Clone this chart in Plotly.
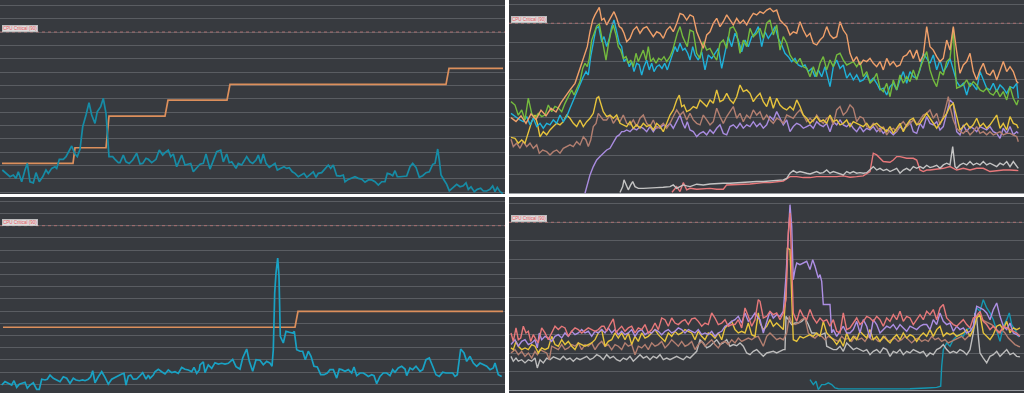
import plotly.graph_objects as go

W, H = 1024, 393
BG = "#373a3f"
GRID = "#5a5d62"
CRITICAL = 90
CRIT_LABEL = "CPU Critical (90)"

# ---------------- top-left panel ----------------
TL_T = [2.3,6.7,10,13.3,16,18.3,21.7,25,27.3,30,
        33.3,36,39.3,42.7,46,48.3,51.7,55,56.7,59.3,
        63.3,66,68.3,71.7,75,77.3,80,82.7,86,89,
        91.7,95,97.3,100.7,103.3,106,109,112.7,115,118.3,
        120,123.3,126,129.3,132.7,136.7,140,142.7,146,148.3,
        151.7,156,159.3,162.7,165,168.3,170.7,173.3,176.7,181.7,
        185,188.3,190.7,193.3,196.7,200,203.3,206,210,213.3,
        216.7,220.7,223.3,226.7,229.3,231.7,236,238.3,241.7,246.7,
        250,252.7,256,258.3,260.7,263.3,266,269.3,272.7,275,
        277.3,280.7,284,286.7,289.3,292.3,295,298.3,301.7,304,
        306.7,310,313.3,316,318.3,321.7,325,328.3,330.7,333.3,
        336.7,340,343.3,345,348.3,351.7,355,358.3,361.7,365,
        368.3,371.7,375,378.3,381.7,385,387.3,390,392.7,395,
        397.3,400,403.3,406.7,410,412.7,416,419.3,422.7,426,
        429.3,432.7,435,437.7,439.3,441,444,446.7,449.3,453.3,
        456.7,460,463.3,466,468.3,471,474.3,477.3,480.7,483.3,
        486.7,490,492.7,495,497.3,500,502.7]
TL_CPU = [12.4,10.5,8.6,9.6,7.7,11.4,5.8,12.4,16.1,5.8,
          5.2,10.9,5.8,8.6,12.4,10.5,13.3,14.2,13.3,18.4,
          18.4,19.9,22.7,25.9,21.4,19.9,24.0,36.7,43.3,50.2,
          43.3,38.6,45.2,48.0,52.7,44.3,19.9,19.9,18.4,16.5,
          16.5,20.8,17.0,16.1,18.0,21.8,15.8,16.1,19.0,18.4,
          16.5,18.4,23.6,20.8,22.1,23.6,19.9,21.4,14.2,20.8,
          15.2,15.6,16.1,11.4,13.3,15.6,16.1,21.4,12.9,18.0,
          22.7,23.6,17.0,21.4,16.5,17.0,13.3,16.1,15.2,19.9,
          17.0,16.1,18.0,20.8,16.1,21.4,16.1,13.9,15.2,16.1,
          12.4,13.3,14.2,13.3,13.7,11.4,10.5,8.6,9.6,10.5,
          8.3,10.1,11.4,8.3,10.5,10.9,13.3,15.2,13.3,15.2,
          9.2,9.0,9.6,5.8,7.1,7.7,8.6,7.7,7.3,5.5,
          6.8,6.8,5.8,3.9,5.8,5.8,10.5,10.1,9.2,12.0,
          8.6,8.6,9.0,9.0,14.2,16.1,13.9,8.3,9.2,10.9,
          11.4,15.6,16.1,24.2,18.0,9.6,6.8,4.3,0.7,2.6,
          4.3,3.0,3.5,5.2,1.5,3.0,0.2,1.5,2.1,0.6,
          0.6,1.5,3.4,0.2,2.6,0.2,-0.8]
TL_STEP_T = [2, 73, 75, 106, 109, 165, 168, 227, 230, 446, 449, 503]
TL_STEP = [16.1, 16.1, 24.9, 24.9, 42.7, 42.7, 51.7, 51.7, 60.6, 60.6, 69.6, 69.6]

# ---------------- bottom-left panel ----------------
BL_CPU = [(1.7,5.1),(5,6.9),(8.3,6.0),(11.7,5.1),(14,7.4),(16.7,3.9),(19.3,5.5),(22.7,6.0),(25,6.6),(27.3,3.4),
          (30,5.1),(33.3,6.3),(36.7,2.8),(39.3,2.8),(41.7,8.2),(45,7.8),(47.3,8.2),(50,10.4),(53.3,8.7),(56.7,7.8),
          (60,6.9),(63.3,9.5),(66.7,8.7),(70,6.0),(73.3,8.7),(76,7.8),(79.3,7.4),(82.7,7.8),(85,7.4),(88.3,8.2),
          (90.7,9.5),(92.7,12.7),(95,6.3),(98.3,9.5),(101.7,12.2),(105,9.2),(108.3,5.6),(111.7,8.2),(115,9.2),(118.3,9.9),
          (121.7,11.0),(124,11.3),(126,5.1),(128.3,9.9),(130.7,10.4),(133.3,8.2),(136.7,8.3),(140,10.1),(142.7,11.7),(146,8.2),
          (148.3,10.4),(150,8.7),(153.3,10.4),(155,12.2),(158.3,13.5),(161.7,12.2),(165,11.0),(168.3,13.1),(171.7,11.7),(175,12.2),
          (178.3,11.3),(181.7,14.5),(185,13.5),(188.3,13.1),(191.7,12.2),(194,14.5),(196.7,11.3),(199.3,13.1),(200,15.8),(203.3,17.5),
          (205,11.7),(208.3,15.8),(211.7,14.0),(215,17.0),(218.3,16.3),(221.7,16.7),(225,16.3),(228.3,16.7),(232.7,18.8),(236,14.9),
          (240,13.6),(242.7,19.5),(246.7,24.3),(249.3,17.7),(252.7,12.4),(256,18.6),(260,18.3),(263.3,15.9),(266.7,17.7),(270,16.8),
          (272,15.1),(273.3,23.9),(274.7,54.1),(276,64.8),(277.7,72.8),(279,63.0),(280.3,31.1),(283.3,27.5),(286,33.7),(289.3,33.2),
          (292.7,32.8),(294.3,33.7),(296.7,23.9),(300,23.1),(302.7,23.1),(305.3,18.6),(308.3,23.1),(311,20.4),(314,15.1),(317.3,14.7),
          (320.7,10.6),(324,10.6),(327.3,11.5),(330,13.3),(333.3,13.3),(336.7,8.8),(339.3,13.6),(341.7,13.3),(345,12.4),(348.3,13.3),
          (351.7,11.5),(354,14.7),(356.7,10.1),(360,11.5),(363.3,11.5),(366,10.6),(368.3,9.7),(371.7,10.6),(374,10.1),(376.7,5.8),
          (380,9.7),(383.3,11.5),(386.7,11.5),(390,10.1),(392.7,13.3),(395,11.9),(398.3,14.2),(401.7,15.1),(405,13.6),(406.7,10.1),
          (410,14.2),(412.7,13.3),(416,15.1),(420,12.4),(422.7,13.3),(426,18.6),(429.3,19.5),(432.7,15.1),(436,10.6),(439.3,9.7),
          (442.7,11.9),(446,11.5),(449.3,11.5),(452.7,11.5),(455,9.7),(457.3,10.6),(460.7,24.3),(464,22.2),(466.7,17.7),(470,20.4),
          (473.3,16.8),(476.7,15.1),(480,16.8),(483.3,15.9),(486.7,15.1),(490,13.3),(493.3,14.2),(495,16.8),(498.3,10.6),(501.7,9.7)]
BL_STEP_T = [3, 295, 298, 503]
BL_STEP = [35.9, 35.9, 44.4, 44.4]

# ---------------- top-right panel ----------------
TR_ORANGE = [(511,40),(516,38),(521,41),(526,37),(531,42),(536,39),(541,44),(546,41),(551,45),(556,43),(561,48),(566,52),
    (570,54.7),(575,58.2),(580,66.1),(583.3,72.3),(587.3,77.6),(590,85.5),(592.7,91.7),(595,94.4),(597.3,97.0),(599.3,98.4),
    (601.7,91.7),(604,92.6),(606.7,89.1),(609.3,91.7),(611.7,94.4),(614,96.1),(616.7,92.6),(619.3,88.2),(621.7,87.3),(624,84.7),
    (626.7,80.2),(630,82.0),(633.3,86.4),(636.7,88.2),(640,84.7),(643.3,87.3),(646.7,88.2),(650,85.5),(653.3,82.9),(656.7,85.5),
    (660,84.7),(663.3,82.0),(666.7,86.4),(670,88.2),(673.3,85.5),(676.7,89.9),(680,95.2),(683.3,94.4),(686.7,91.7),(690,94.4),
    (693.3,93.5),(696.7,85.5),(700,81.1),(703.3,76.7),(706.7,83.8),(710,85.5),(713.3,89.9),(716.7,92.6),(720,88.2),(723.3,90.8),
    (726.7,94.4),(730,91.7),(733.3,89.1),(736.7,92.6),(740,89.9),(743.3,91.7),(746.7,89.1),(750,92.6),(753.3,95.2),(756.7,94.4),
    (760,96.1),(763.3,95.2),(766.7,97.0),(770,97.9),(773.3,96.1),(776.7,97.0),(780,91.7),(783.3,89.9),(786.7,88.2),(790,83.8),
    (793.3,85.5),(796.7,84.7),(800,90.8),(803.3,86.4),(806.7,82.9),(810,84.7),(813.3,79.4),(816.7,78.5),(820,81.1),(823.3,82.9),
    (826.7,88.2),(830,83.8),(833.3,82.0),(836.7,82.9),(840,90.8),(843.3,86.4),(846.7,83.8),(850,74.1),(853.3,69.7),(856.7,72.3),
    (860,67.9),(863.3,70.5),(866.7,69.7),(870,71.4),(873.3,68.8),(876.7,67.0),(880,69.7),(883.3,65.3),(886.7,71.4),(890,67.9),
    (893.3,69.7),(896.7,67.0),(900,67.9),(903.3,72.3),(906.7,73.2),(910,75.8),(913.3,71.4),(916.7,75.8),(920,69.7),(923.3,73.2),
    (926.7,88.2),(930,77.6),(933.3,75.8),(936.7,72.3),(940,69.7),(943.3,71.4),(946.7,81.1),(950,75.8),(953.3,88.2),(956.7,75.0),
    (960,63.5),(963.3,67.9),(966.7,69.7),(970,74.1),(973.3,64.4),(976.7,60.0),(980,65.3),(983.3,68.8),(986.7,63.5),(990,62.6),
    (993.3,65.3),(996.7,60.0),(1000,65.3),(1003.3,69.7),(1006.7,64.4),(1010,67.0),(1013.3,64.4),(1016.7,59.1),(1018.3,58.2)]
TR_GREEN = [(511,48.5),(515,46.7),(518.3,41.3),(521.7,44.1),(525,38.8),(528.3,50.3),(531.7,42.3),(535,39.7),(538.3,42.3),(541.7,40.6),
    (545,41.4),(548.3,46.7),(551.7,43.2),(555,46.0),(558.3,45.1),(561.7,43.2),(565,47.6),(568.3,51.1),(571.7,54.7),(574,52.0),
    (577.3,55.6),(580,59.1),(582.7,66.1),(585,68.8),(587.3,67.0),(589.3,71.4),(591.7,81.1),(594,84.7),(596.7,88.5),(599.3,89.6),
    (601.7,82.0),(604,76.7),(606,70.5),(608.3,78.5),(610.7,84.7),(613.3,89.1),(616,83.8),(618.3,77.6),(620.7,75.8),(623.3,71.4),
    (626,72.3),(628.3,68.8),(630.7,70.5),(633.3,67.0),(636,74.1),(638.3,69.7),(640.7,72.3),(643.3,75.8),(646,70.5),(648.3,77.6),
    (650.7,69.7),(653.3,71.4),(656,68.8),(658.7,71.4),(661.3,70.5),(664,72.3),(666.7,69.7),(670,72.3),(672.7,75.8),(675,81.1),
    (677.3,84.7),(680,88.2),(682.7,82.9),(685,80.2),(687.3,77.6),(690,86.4),(693.3,85.5),(696.7,74.1),(700,71.4),(703.3,80.2),
    (706.7,75.8),(710,76.7),(713.3,73.2),(716.7,70.5),(720,79.4),(723.3,81.1),(726.7,76.7),(730,87.3),(733.3,88.2),(736.7,84.7),
    (740,74.1),(743.3,81.1),(746.7,77.6),(750,87.3),(753.3,82.9),(756.7,84.7),(760,87.3),(763.3,82.0),(766.7,90.0),(770,91.7),
    (773.3,83.8),(776.7,89.1),(780,75.8),(783.3,82.9),(786.7,79.4),(790,73.2),(793.3,70.5),(796.7,68.8),(800,71.4),(803.3,67.0),
    (806.7,66.1),(810,61.7),(813.3,67.0),(816.7,61.7),(820,68.8),(823.3,72.3),(826.7,65.3),(830,70.5),(833.3,67.0),(836.7,73.2),
    (840,74.1),(843.3,70.5),(846.7,67.9),(850,68.8),(853.3,69.7),(856.7,67.0),(860,69.7),(863.3,61.7),(866.7,64.4),(870,58.2),
    (873.3,60.0),(876.7,63.5),(880,55.6),(883.3,53.8),(886.7,58.2),(890,51.1),(893.3,60.0),(896.7,54.7),(900,62.6),(903.3,58.2),
    (906.7,61.7),(910,59.1),(913.3,65.3),(916.7,60.0),(920,66.1),(923.3,70.5),(926.7,75.0),(930,65.3),(933.3,60.0),(936.7,56.4),
    (940,64.4),(943.3,62.6),(946.7,69.7),(950,71.4),(953.3,87.3),(955,67.0),(956.7,55.6),(960,56.4),(963.3,57.3),(966.7,60.0),
    (970,56.4),(973.3,59.1),(976.7,57.3),(980,54.7),(983.3,53.8),(986.7,55.6),(990,52.9),(993.3,52.0),(996.7,54.7),(1000,51.1),
    (1003.3,53.8),(1006.7,49.4),(1010,56.4),(1013.3,50.3),(1016.7,46.7),(1018.3,49.4)]
TR_CYAN = [(511,42.3),(513.3,41.4),(516.7,39.7),(520,38.8),(523.3,37.9),(526.7,40.6),(530,36.2),(533.3,39.7),(536.7,35.3),(540,37.0),
    (543.3,34.4),(546.7,37.0),(550,36.2),(553.3,38.8),(556.7,37.0),(560,41.4),(563.3,37.9),(566.7,40.6),(570,45.0),(573.3,49.4),
    (576.7,52.9),(580,58.2),(583.3,61.7),(586,64.4),(588.3,62.6),(590.7,72.3),(593.3,79.4),(596,87.3),(598.7,88.2),(601.7,80.2),
    (604,82.9),(606.7,77.6),(609.3,82.0),(611.7,88.2),(614,91.7),(616.7,85.5),(619.3,79.4),(621.7,77.6),(624,69.7),(626.7,71.4),
    (629.3,67.0),(631.7,69.7),(634,64.4),(636.7,68.8),(639.3,67.9),(641.7,62.6),(644,67.0),(646.7,70.5),(649.3,65.3),(651.7,68.8),
    (654,64.4),(656.7,67.0),(659.3,67.9),(662,66.1),(664.7,68.8),(667.3,65.3),(670,69.7),(672.7,74.1),(675,77.6),(677.3,74.9),
    (680,79.4),(682.7,75.8),(685,76.7),(687.7,74.1),(690,70.5),(692.7,77.6),(695,73.2),(698.3,70.5),(701.7,74.9),(705,65.3),
    (708.3,73.2),(711.7,71.4),(715,74.1),(718.3,76.7),(721.7,66.1),(725,74.1),(728.3,82.9),(731.7,77.6),(735,84.7),(738.3,81.1),
    (741.7,74.9),(745,81.1),(748.3,77.6),(751.7,82.9),(755,84.7),(758.3,88.2),(761.7,77.6),(765,85.5),(768.3,82.0),(771.7,84.7),
    (775,88.2),(778.3,82.0),(781.7,78.5),(785,74.1),(788.3,72.3),(791.7,69.7),(795,71.4),(798.3,67.9),(801.7,67.0),(805,67.9),
    (808.3,64.4),(811.7,66.1),(815,61.7),(818.3,65.3),(821.7,61.7),(825,67.0),(828.3,60.0),(830,56.4),(833.3,67.0),(836.7,70.5),
    (840,66.1),(843.3,67.9),(846.7,60.9),(850,63.5),(853.3,60.0),(856.7,62.6),(860,59.1),(863.3,60.0),(866.7,62.6),(870,59.1),
    (873.3,60.9),(876.7,58.2),(880,54.7),(883.3,55.6),(886.7,52.0),(890,56.4),(893.3,58.2),(896.7,54.7),(900,60.0),(903.3,64.4),
    (906.7,58.2),(910,64.4),(913.3,61.7),(916.7,60.9),(920,65.3),(923.3,74.1),(926.7,71.4),(930,68.8),(933.3,73.2),(936.7,65.3),
    (940,70.5),(943.3,64.4),(946.7,67.0),(950,71.4),(953.3,65.3),(956.7,59.1),(960,56.4),(963.3,58.2),(966.7,52.0),(970,58.2),
    (973.3,57.3),(976.7,54.7),(980,64.4),(983.3,60.0),(986.7,55.6),(990,54.7),(993.3,58.2),(996.7,53.8),(1000,57.3),(1003.3,55.6),
    (1006.7,52.9),(1010,56.4),(1013.3,55.6),(1016.7,58.2),(1018.3,50.3)]
TR_YELLOW = [(511,29.6),(515,29.1),(518.3,26.5),(521.7,28.2),(525,26.5),(528.3,32.6),(531.7,37.9),(535,41.4),(537.3,37.0),(540,29.9),
    (543.3,32.6),(546.7,30.9),(550,33.5),(553.3,35.3),(556.7,37.0),(560,36.2),(563.3,37.9),(566.7,41.4),(570,39.7),(573.3,37.0),
    (576.7,35.3),(580,38.8),(583.3,35.3),(586.7,37.9),(590,39.7),(593.3,42.3),(596.7,50.3),(598.7,51.1),(600.7,47.6),(603.3,43.2),
    (606.7,40.6),(610,41.4),(613.3,39.7),(616.7,41.4),(620,37.0),(623.3,36.2),(626.7,35.3),(630,37.9),(633.3,34.4),(636.7,36.2),
    (640,34.4),(643.3,37.0),(646.7,35.3),(650,36.2),(653.3,33.5),(656.7,37.0),(660,35.3),(663.3,32.6),(666.7,37.0),(670,41.4),
    (673.3,44.1),(676.7,49.4),(679.3,52.0),(681.7,45.9),(684,46.7),(686.7,43.2),(690,44.1),(693.3,45.9),(696.7,45.0),(700,49.4),
    (703.3,47.6),(706.7,45.9),(710,49.4),(713.3,47.6),(716.7,54.7),(720,48.5),(723.3,49.4),(726.7,52.9),(730,49.4),(733.3,47.6),
    (736.7,51.1),(740,57.3),(743.3,53.8),(746.7,54.7),(750,52.9),(753.3,48.5),(756.7,51.1),(760,52.9),(763.3,48.5),(766.7,45.9),
    (770,51.1),(773.3,45.0),(776.7,50.3),(780,46.7),(783.3,45.0),(786.7,44.1),(790,45.9),(793.3,44.1),(796.7,49.4),(800,45.9),
    (803.3,41.4),(806.7,39.7),(810,37.0),(813.3,38.8),(816.7,40.6),(820,37.9),(823.3,38.8),(826.7,37.0),(830,41.4),(833.3,37.9),
    (836.7,38.8),(840,36.2),(843.3,37.0),(846.7,38.8),(850,35.3),(853.3,37.9),(856.7,37.0),(860,36.2),(863.3,35.3),(866.7,37.0),
    (870,34.4),(873.3,36.2),(876.7,37.0),(880,35.3),(883.3,34.4),(886.7,32.6),(890,35.3),(893.3,31.7),(896.7,34.4),(900,37.0),
    (903.3,32.6),(906.7,36.2),(910,38.8),(913.3,39.7),(916.7,36.2),(920,37.0),(923.3,39.7),(926.7,42.3),(930,39.7),(933.3,37.0),
    (936.7,34.4),(940,37.0),(943.3,39.7),(946.7,42.3),(950,45.9),(953.3,47.6),(956.7,40.6),(960,33.5),(963.3,35.3),(966.7,37.0),
    (970,34.4),(973.3,36.2),(976.7,39.7),(980,35.3),(983.3,37.0),(986.7,34.4),(990,36.2),(993.3,38.8),(996.7,41.4),(1000,34.4),
    (1003.3,37.0),(1006.7,33.5),(1010,40.6),(1013.3,37.0),(1016.7,36.2),(1018.3,34.4)]
TR_BROWN = [(511,28.6),(513.3,24.7),(516.7,26.5),(520,23.8),(523.3,27.3),(526.7,24.7),(530,26.5),(533.3,23.8),(536.7,25.6),(539.3,21.2),
    (542.7,22.9),(546.7,22.0),(550,20.3),(553.3,22.0),(556.7,22.9),(560,21.2),(563.3,23.8),(566.7,24.7),(570,25.6),(573.3,24.7),
    (576.7,27.3),(580,25.6),(583.3,29.9),(586,28.2),(588.3,24.7),(590.7,28.2),(593.3,35.3),(596,37.0),(598.3,42.3),(600.7,40.6),
    (603.3,38.8),(606.7,38.8),(610,41.4),(613.3,37.0),(616.7,39.7),(620,37.9),(623.3,41.4),(626.7,37.0),(630,36.2),(633.3,38.8),
    (636.7,35.3),(640,39.7),(643.3,41.4),(646.7,37.0),(650,35.3),(653.3,38.8),(656.7,34.4),(660,35.3),(663.3,37.0),(666.7,34.4),
    (670,37.0),(673.3,40.6),(676.7,44.1),(680,41.4),(683.3,43.2),(686.7,38.8),(690,42.3),(693.3,38.8),(696.7,37.0),(700,36.2),
    (703.3,41.4),(706.7,38.8),(710,36.2),(713.3,37.9),(716.7,45.0),(720,40.6),(723.3,37.0),(726.7,40.6),(730,43.2),(733.3,45.9),
    (736.7,39.7),(740,42.3),(743.3,37.9),(746.7,41.4),(750,39.7),(753.3,44.1),(756.7,41.4),(760,43.2),(763.3,38.8),(766.7,41.4),
    (770,38.8),(773.3,37.0),(776.7,39.7),(780,38.8),(783.3,37.0),(786.7,41.4),(790,40.6),(793.3,39.7),(796.7,42.3),(800,44.1),
    (803.3,41.4),(806.7,37.9),(810,39.7),(813.3,37.9),(816.7,41.4),(820,38.8),(823.3,37.0),(826.7,39.7),(830,40.6),(833.3,36.2),
    (836.7,44.1),(840,45.9),(843.3,41.4),(846.7,43.2),(850,46.7),(853.3,45.0),(856.7,37.9),(860,40.6),(863.3,39.7),(866.7,35.3),
    (870,34.4),(873.3,37.0),(876.7,35.3),(880,32.6),(883.3,35.3),(886.7,30.9),(890,33.5),(893.3,34.4),(896.7,32.6),(900,36.2),
    (903.3,37.9),(906.7,35.3),(910,37.0),(913.3,38.8),(916.7,36.2),(920,38.8),(923.3,41.4),(926.7,42.3),(930,44.1),(933.3,39.7),
    (936.7,42.3),(940,36.2),(943.3,40.6),(946.7,47.6),(948.3,51.1),(950,45.9),(953.3,38.8),(956.7,34.4),(960,32.6),(963.3,31.7),
    (966.7,33.5),(970,30.9),(973.3,32.6),(976.7,35.3),(980,31.7),(983.3,32.6),(986.7,30.9),(990,32.6),(993.3,30.9),(996.7,31.7),
    (1000,32.6),(1003.3,30.9),(1006.7,31.7),(1010,31.7),(1013.3,30.9),(1016.7,30.0),(1018.3,27.3)]
TR_PURPLE = [(585,0.0),(588.3,6.2),(590,9.7),(593.3,14.1),(596.7,17.6),(600,19.4),(603.3,21.2),(606.7,22.9),(610,23.8),(613.3,26.5),
    (616.7,30.0),(619.3,30.9),(621.7,32.6),(624,32.6),(626.7,33.5),(630,32.6),(633.3,34.4),(636.7,33.5),(640,35.3),(643.3,34.4),
    (646.7,32.6),(650,35.3),(653.3,32.6),(656.7,35.3),(660,34.4),(663.3,36.2),(666.7,35.3),(670,37.0),(673.3,34.4),(676.7,37.9),
    (680,41.4),(682.7,37.0),(685,34.4),(687.3,37.9),(690,33.5),(693.3,32.6),(696.7,30.0),(700,31.7),(703.3,32.6),(706.7,30.9),
    (710,33.5),(713.3,31.7),(716.7,34.4),(720,36.2),(723.3,31.7),(726.7,30.9),(730,35.3),(733.3,36.2),(736.7,34.4),(740,37.0),
    (743.3,34.4),(746.7,36.2),(750,35.3),(753.3,37.9),(756.7,35.3),(760,37.0),(763.3,34.4),(766.7,36.2),(770,40.6),(773.3,38.8),
    (776.7,43.2),(780,39.7),(783.3,36.2),(786.7,38.8),(790,32.6),(793.3,35.3),(796.7,37.0),(800,36.2),(803.3,34.4),(806.7,35.3),
    (810,36.2),(813.3,34.4),(816.7,37.9),(820,36.2),(823.3,35.3),(826.7,37.0),(830,32.6),(833.3,37.9),(836.7,36.2),(840,38.8),
    (843.3,36.2),(846.7,35.3),(850,37.0),(853.3,34.4),(856.7,32.6),(860,35.3),(863.3,32.6),(866.7,34.4),(870,33.5),(873.3,35.3),
    (876.7,32.6),(880,34.4),(883.3,31.7),(886.7,33.5),(890,32.6),(893.3,30.9),(896.7,32.6),(900,35.3),(903.3,33.5),(906.7,36.2),
    (910,37.9),(913.3,32.6),(916.7,31.7),(920,37.0),(923.3,34.4),(926.7,40.6),(930,37.0),(933.3,36.2),(936.7,37.9),(940,33.5),
    (943.3,35.3),(946.7,42.3),(950,49.4),(953.3,47.6),(956.7,32.6),(960,30.9),(963.3,36.2),(966.7,32.6),(970,35.3),(973.3,34.4),
    (976.7,32.6),(980,35.3),(983.3,34.4),(986.7,33.5),(990,35.3),(993.3,32.6),(996.7,31.7),(1000,29.1),(1003.3,34.4),(1006.7,31.7),
    (1010,35.3),(1013.3,30.9),(1016.7,32.6),(1018.3,31.7)]
TR_GREY = [(620,0.4),(622.7,3.5),(624,7.1),(626,4.4),(628.3,1.8),(630.7,4.4),(632.7,6.2),(635,3.5),(638.3,2.6),(643.3,2.6),
    (650,2.6),(656.7,3.0),(663.3,3.2),(670,3.5),(673.3,4.4),(676.7,2.6),(680,3.5),(683.3,4.4),(686.7,3.9),(690,3.5),
    (696.7,4.8),(703.3,4.4),(710,4.9),(716.7,5.3),(723.3,5.3),(730,5.3),(736.7,5.6),(743.3,5.6),(750,6.0),(756.7,6.2),
    (763.3,6.2),(770,6.5),(776.7,6.7),(783.3,7.1),(786.7,7.9),(790,10.6),(793.3,12.0),(796.7,10.9),(800,11.5),(803.3,10.9),
    (806.7,10.6),(810,10.2),(813.3,10.9),(816.7,11.5),(820,10.6),(823.3,10.9),(826.7,12.3),(830,10.6),(833.3,11.5),(836.7,10.9),
    (840,10.6),(843.3,9.7),(846.7,11.5),(850,10.6),(853.3,11.5),(856.7,10.6),(860,10.9),(863.3,10.6),(866.7,10.9),(870,12.3),
    (873.3,14.1),(876.7,12.3),(880,13.2),(883.3,12.0),(886.7,12.7),(890,11.5),(893.3,12.3),(896.7,13.2),(900,10.6),(903.3,12.3),
    (906.7,13.2),(910,12.0),(913.3,14.1),(916.7,13.2),(920,14.1),(923.3,13.2),(926.7,14.8),(930,13.6),(933.3,14.1),(936.7,14.8),
    (940,13.2),(943.3,15.0),(946.7,15.9),(950,15.0),(952.7,24.7),(955,14.1),(956.7,13.2),(960,15.0),(963.3,15.9),(966.7,15.0),
    (970,16.8),(973.3,15.0),(976.7,15.9),(980,15.0),(983.3,16.8),(986.7,15.0),(990,15.9),(993.3,15.0),(996.7,14.1),(1000,15.9),
    (1003.3,15.0),(1006.7,16.8),(1010,14.1),(1013.3,16.8),(1016.7,14.1),(1018.3,13.2)]
TR_PINK = [(672,0.5),(676.7,3.5),(680,0.9),(683.3,5.6),(686.7,1.8),(690,2.6),(696.7,2.1),(703.3,2.3),(710,2.6),(716.7,2.1),
    (723.3,2.1),(726.7,4.4),(736.7,4.4),(743.3,4.8),(750,4.9),(756.7,5.3),(763.3,5.6),(770,5.6),(776.7,6.2),(783.3,6.5),
    (790,8.8),(796.7,8.8),(803.3,8.3),(810,8.3),(816.7,8.8),(823.3,8.8),(830,8.5),(836.7,8.8),(843.3,9.2),(850,8.5),
    (856.7,8.8),(863.3,9.2),(870,11.5),(873.3,21.2),(876.7,20.3),(880,18.5),(883.3,16.8),(890,16.4),(893.3,17.6),(896.7,19.4),
    (900,19.4),(906.7,18.5),(913.3,18.5),(916.7,17.6),(920,12.3),(923.3,11.5),(926.7,12.3),(930,12.3),(936.7,12.7),(943.3,13.2),
    (950,14.1),(953.3,13.2),(956.7,12.3),(963.3,13.2),(970,12.3),(976.7,13.2),(983.3,13.2),(990,11.5),(996.7,12.0),(1003.3,12.3),
    (1010,12.3),(1016.7,12.3),(1018.3,12.0)]

# ---------------- bottom-right panel ----------------
BR_PINK = [(511,30.8),(513.3,26.3),(516,33.5),(518.3,27.2),(520.7,28.1),(523.3,34.4),(526,30.8),(528.3,31.7),(530.7,26.3),(533.3,29.9),
    (536,27.2),(538.3,25.5),(541.7,33.5),(545,30.8),(548.3,27.2),(551.7,30.8),(555,34.4),(558.3,32.6),(561.7,34.4),(565,33.5),
    (568.3,29.0),(571.7,31.7),(575,33.5),(578.3,32.6),(581.7,30.8),(585,32.2),(588.3,33.5),(591.7,32.6),(595,31.7),(598.3,32.6),
    (601.7,34.4),(604,34.4),(606.7,31.7),(610,35.3),(613.3,38.3),(616,30.8),(618.3,32.6),(621.7,34.4),(625,31.7),(628.3,33.5),
    (631.7,34.4),(635,30.8),(638.3,33.5),(641.7,32.6),(645,35.3),(648.3,30.8),(651.7,32.6),(655,36.1),(658.3,32.6),(661.7,38.8),
    (665,37.9),(668.3,34.4),(671.7,38.8),(675,36.1),(678.3,35.3),(681.7,37.0),(685,37.9),(688.3,35.3),(691.7,38.3),(695,38.8),
    (698.3,37.0),(701.7,34.4),(705,36.1),(708.3,35.3),(711.7,41.5),(715,38.8),(718.3,35.3),(721.7,36.1),(725,37.9),(728.3,34.4),
    (731.7,35.3),(735,35.3),(738.3,37.9),(741.7,33.5),(745,44.2),(748.3,39.7),(751.7,34.4),(755,37.9),(758.3,48.6),(760,47.7),
    (763.3,38.8),(766.7,39.7),(770,42.4),(773.3,40.6),(776.7,41.5),(780,37.9),(783.3,41.5),(786,48.6),(788.3,84.3),(790,95.0),
    (791.7,61.1),(793.3,41.5),(796.7,37.0),(800,43.3),(803.3,39.7),(806.7,37.9),(810,43.3),(813.3,38.8),(816.7,36.1),(820,38.8),
    (823.3,37.0),(826.7,37.9),(830,34.4),(833.3,37.9),(836.7,31.7),(840,30.8),(843.3,41.5),(846.7,32.6),(850,33.5),(853.3,36.1),
    (856.7,38.8),(860,35.3),(863.3,37.0),(866.7,39.7),(870,38.8),(873.3,37.0),(876.7,39.7),(880,37.9),(883.3,34.4),(886.7,38.8),
    (890,37.0),(893.3,40.6),(896.7,37.9),(900,42.4),(903.3,37.0),(906.7,39.7),(910,38.8),(913.3,35.3),(916.7,37.9),(920,40.6),
    (923.3,37.9),(926.7,42.4),(930,40.6),(933.3,43.3),(936.7,37.9),(940,44.2),(943.3,46.0),(946.7,38.8),(950,37.0),(953.3,35.3),
    (956.7,34.4),(960,36.1),(963.3,37.9),(966.7,35.3),(970,33.5),(973.3,38.8),(976.7,39.7),(980,42.4),(983.3,37.0),(986.7,35.3),
    (990,32.6),(993.3,34.4),(996.7,32.6),(1000,30.8),(1003.3,34.4),(1006.7,33.5),(1010,32.6),(1013.3,31.7),(1016.7,30.8),(1020,29.0)]
BR_PURPLE = [(511,24.6),(515,27.2),(518.3,23.7),(521.7,26.3),(525,27.2),(528.3,24.6),(531.7,25.5),(535,27.2),(537.3,22.8),(539.3,30.8),
    (541.7,27.2),(545,29.0),(548.3,28.1),(551.7,26.3),(555,29.0),(558.3,29.9),(561.7,28.1),(565,30.8),(568.3,29.0),(571.7,31.7),
    (575,29.9),(578.3,30.8),(581.7,32.6),(585,30.8),(588.3,31.7),(591.7,29.0),(595,31.7),(598.3,30.8),(601.7,32.6),(605,30.8),
    (608.3,33.5),(611.7,30.8),(615,32.6),(618.3,29.9),(621.7,31.7),(625,29.9),(628.3,30.8),(631.7,32.6),(635,29.0),(638.3,31.7),
    (641.7,32.6),(645,29.9),(648.3,31.2),(651.7,30.8),(655,32.6),(658.3,31.7),(661.7,29.9),(665,31.7),(668.3,32.6),(671.7,30.8),
    (675,31.7),(678.3,33.5),(681.7,32.6),(685,30.8),(688.3,32.6),(691.7,31.7),(695,30.8),(698.3,32.6),(701.7,29.9),(705,30.8),
    (708.3,29.9),(711.7,31.7),(715,29.0),(718.3,30.8),(721.7,31.7),(725,34.4),(728.3,35.3),(731.7,37.0),(735,37.9),(738.3,39.7),
    (741.7,36.1),(745,41.5),(748.3,37.0),(751.7,38.8),(755,41.5),(758.3,38.8),(760,37.9),(763.3,30.8),(766.7,36.1),(770,42.4),
    (773.3,38.8),(776.7,40.6),(780,39.7),(783.3,42.4),(786,61.1),(788.3,87.8),(790,99.4),(791.7,87.8),(793.3,59.3),(795,64.7),
    (796.7,68.2),(800,67.3),(803.3,68.2),(806.7,69.1),(810,64.7),(812.7,70.0),(815,66.5),(818.3,60.2),(820,62.0),(821.7,58.4),
    (823.3,46.0),(826.7,46.0),(830,46.0),(831.7,30.8),(833.3,32.6),(836.7,29.0),(840,31.7),(843.3,34.4),(846.7,30.8),(850,30.8),
    (853.3,32.6),(856.7,37.0),(860,30.8),(863.3,37.9),(866.7,34.4),(870,28.1),(873.3,37.9),(876.7,35.3),(880,30.8),(883.3,32.6),
    (886.7,34.4),(890,33.5),(893.3,35.3),(896.7,32.6),(900,35.3),(903.3,33.5),(906.7,31.7),(910,34.4),(913.3,33.5),(916.7,32.6),
    (920,34.4),(923.3,35.3),(926.7,35.3),(930,32.6),(933.3,37.9),(936.7,35.3),(940,41.5),(943.3,37.0),(946.7,35.3),(950,36.1),
    (953.3,31.7),(956.7,34.4),(960,32.6),(963.3,33.5),(966.7,30.8),(970,31.7),(973.3,34.4),(976.7,45.1),(980,44.2),(983.3,43.3),
    (986.7,41.5),(990,37.9),(993.3,43.3),(996.7,46.8),(1000,39.7),(1003.3,34.4),(1006.7,32.6),(1010,36.1),(1013.3,30.8),(1016.7,29.9),
    (1020,29.0)]
BR_YELLOW = [(511,22.8),(513.3,21.9),(516,26.3),(518.3,23.7),(521.7,21.9),(525,22.8),(528.3,21.9),(531.7,24.6),(535,23.7),(538.3,20.1),
    (541.7,22.8),(545,21.9),(548.3,22.8),(551.7,29.0),(555,24.6),(558.3,23.7),(561.7,27.2),(565,24.6),(568.3,26.3),(571.7,23.7),
    (575,21.9),(578.3,25.5),(581.7,24.6),(585,23.7),(588.3,24.6),(591.7,25.5),(595,27.2),(598.3,30.8),(601.7,32.6),(605,23.7),
    (608.3,26.3),(611.7,27.2),(615,30.8),(618.3,28.1),(621.7,30.8),(625,27.2),(628.3,30.8),(631.7,24.6),(635,29.0),(638.3,26.3),
    (641.7,30.8),(645,28.1),(648.3,29.0),(651.7,30.8),(655,32.6),(658.3,29.9),(661.7,28.1),(665,26.3),(668.3,30.8),(671.7,29.0),
    (675,31.7),(678.3,29.9),(681.7,30.8),(685,32.6),(688.3,31.7),(691.7,30.8),(695,27.2),(698.3,31.7),(701.7,29.0),(705,27.2),
    (708.3,30.8),(711.7,29.9),(715,28.1),(718.3,30.8),(721.7,27.2),(725,33.5),(728.3,35.3),(731.7,37.0),(735,32.6),(738.3,30.8),
    (741.7,31.7),(745,30.8),(748.3,36.1),(751.7,29.9),(755,29.0),(758.3,41.5),(760,36.1),(763.3,32.6),(766.7,34.4),(770,37.9),
    (773.3,34.4),(776.7,36.1),(780,34.4),(783.3,32.6),(786,52.2),(787.3,76.3),(790,75.4),(791.7,52.2),(793.3,27.2),(796.7,26.3),
    (800,29.0),(803.3,28.1),(806.7,29.0),(810,29.9),(813.3,29.0),(816.7,30.8),(820,29.0),(823.3,37.0),(826.7,30.8),(830,29.0),
    (833.3,27.2),(836.7,24.6),(840,27.2),(843.3,23.7),(846.7,30.8),(850,26.3),(853.3,29.0),(856.7,27.2),(860,31.7),(863.3,29.9),
    (866.7,28.1),(870,32.6),(873.3,27.2),(876.7,29.0),(880,26.3),(883.3,29.0),(886.7,27.2),(890,25.5),(893.3,28.1),(896.7,29.9),
    (900,27.2),(903.3,30.8),(906.7,28.1),(910,29.9),(913.3,29.0),(916.7,26.3),(920,29.0),(923.3,30.8),(926.7,29.0),(930,32.6),
    (933.3,29.0),(936.7,32.6),(940,34.4),(943.3,29.0),(946.7,30.8),(950,29.9),(953.3,30.8),(956.7,29.0),(960,29.9),(963.3,30.8),
    (966.7,32.6),(970,29.0),(973.3,32.6),(976.7,38.8),(980,40.6),(983.3,30.8),(986.7,29.0),(990,27.2),(993.3,29.9),(996.7,34.4),
    (1000,35.3),(1003.3,32.6),(1006.7,37.0),(1010,30.8),(1013.3,33.5),(1016.7,32.6),(1020,33.5)]
BR_BROWN = [(511,20.1),(515,21.9),(518.3,19.2),(521.7,21.0),(525,18.3),(528.3,20.1),(531.7,17.4),(535,21.0),(537.3,19.2),(540,21.9),
    (543.3,21.0),(546.7,20.1),(549.3,16.5),(551.7,23.7),(555,22.8),(558.3,21.9),(561.7,24.6),(565,21.9),(568.3,22.8),(571.7,24.6),
    (575,23.7),(578.3,25.5),(581.7,21.9),(585,24.6),(588.3,23.7),(591.7,25.5),(595,21.9),(598.3,24.6),(601.7,26.3),(605,23.7),
    (608.3,24.6),(611.7,21.9),(615,24.6),(618.3,23.7),(621.7,21.9),(625,25.5),(628.3,23.7),(631.7,24.6),(635,19.2),(638.3,23.7),
    (641.7,22.8),(645,24.6),(648.3,21.9),(651.7,25.5),(655,23.7),(658.3,24.6),(661.7,26.3),(665,22.8),(668.3,24.6),(671.7,27.2),
    (675,25.5),(678.3,23.7),(681.7,26.3),(685,23.7),(688.3,24.6),(691.7,26.3),(695,21.9),(698.3,24.6),(701.7,26.3),(705,23.7),
    (708.3,25.5),(711.7,27.2),(715,24.6),(718.3,22.8),(721.7,25.5),(725,26.3),(728.3,24.6),(731.7,27.2),(735,25.5),(738.3,28.1),
    (741.7,26.3),(745,27.2),(748.3,28.1),(751.7,27.2),(755,28.6),(758.3,29.0),(760,27.2),(763.3,23.7),(766.7,29.0),(770,30.8),
    (773.3,29.0),(776.7,27.2),(780,28.1),(783.3,27.2),(786.7,30.8),(789.3,39.7),(791.7,36.1),(795,35.3),(798.3,36.1),(801.7,37.9),
    (805,38.8),(808.3,30.8),(811.7,29.0),(815,28.1),(818.3,29.9),(821.7,29.0),(825,27.2),(828.3,29.0),(831.7,28.1),(835,27.2),
    (838.3,26.3),(841.7,29.0),(845,27.2),(848.3,28.1),(851.7,26.3),(855,29.0),(858.3,27.2),(861.7,28.1),(865,26.3),(868.3,29.0),
    (871.7,27.2),(875,28.1),(878.3,26.3),(881.7,27.2),(885,29.0),(888.3,26.3),(891.7,27.2),(895,28.1),(898.3,26.3),(901.7,27.2),
    (905,29.0),(908.3,27.2),(911.7,25.5),(915,27.2),(918.3,28.1),(921.7,26.3),(925,27.2),(928.3,26.3),(931.7,29.0),(935,27.2),
    (938.3,28.1),(941.7,26.3),(945,27.2),(948.3,25.5),(951.7,26.3),(955,27.2),(958.3,28.1),(961.7,29.0),(965,27.2),(968.3,29.0),
    (971.7,30.8),(975,36.1),(978.3,41.5),(981.7,37.9),(985,37.0),(988.3,36.1),(991.7,35.3),(995,33.5),(998.3,30.8),(1001.7,32.6),
    (1005,30.8),(1008.3,28.1),(1011.7,26.3),(1015,24.6),(1018.3,23.7),(1020,23.4)]
BR_GREY = [(511,18.3),(513.3,15.7),(516,17.4),(518.3,15.7),(521.7,16.5),(525,14.8),(528.3,16.5),(531.7,15.7),(535,17.4),(537.3,12.1),
    (540,16.5),(543.3,14.8),(546.7,17.4),(550,16.5),(553.3,18.0),(556.7,17.4),(560,16.5),(563.3,18.3),(566.7,16.5),(570,17.4),
    (573.3,15.7),(576.7,17.4),(580,16.5),(583.3,17.4),(586.7,18.3),(590,16.5),(593.3,17.4),(596.7,19.2),(600,18.3),(603.3,16.5),
    (606.7,19.2),(610,17.4),(613.3,18.3),(616.7,16.5),(620,15.7),(623.3,17.4),(626.7,16.5),(630,18.3),(633.3,15.7),(636.7,17.4),
    (640,19.2),(643.3,17.4),(646.7,18.3),(650,16.5),(653.3,18.3),(656.7,17.4),(660,19.2),(663.3,16.5),(666.7,17.4),(670,16.5),
    (673.3,17.4),(676.7,18.3),(680,17.4),(683.3,16.5),(686.7,18.3),(690,17.4),(693.3,19.2),(696.7,21.0),(700,27.2),(703.3,25.5),
    (706.7,22.8),(710,23.7),(713.3,25.5),(716.7,27.2),(720,24.6),(723.3,25.5),(726.7,27.2),(730,23.7),(733.3,24.6),(736.7,24.0),
    (740,25.5),(743.3,23.7),(746.7,20.1),(750,19.2),(753.3,21.0),(756.7,21.9),(760,20.1),(763.3,18.3),(766.7,20.1),(770,20.4),
    (773.3,21.0),(776.7,20.1),(780,21.0),(783.3,21.9),(785,21.9),(786,39.7),(788.3,37.9),(791.7,35.3),(795,36.1),(798.3,36.1),
    (801.7,37.0),(805,38.8),(808.3,35.3),(811.7,30.8),(815,30.8),(818.3,29.9),(821.7,29.9),(825,30.8),(826.7,23.7),(830,22.8),
    (833.3,21.9),(836.7,21.9),(840,23.7),(843.3,21.0),(846.7,25.5),(850,23.7),(853.3,21.9),(856.7,22.8),(860,21.9),(863.3,21.0),
    (866.7,21.9),(870,19.2),(873.3,21.0),(876.7,21.9),(880,20.1),(883.3,22.8),(886.7,21.9),(890,18.3),(893.3,21.0),(896.7,20.1),
    (900,21.9),(903.3,19.2),(906.7,21.0),(910,20.1),(913.3,21.9),(916.7,21.0),(920,20.1),(923.3,21.0),(926.7,18.3),(930,20.1),
    (933.3,19.2),(936.7,21.9),(940,22.8),(943.3,24.6),(946.7,21.9),(950,20.1),(953.3,21.0),(956.7,20.1),(960,21.9),(963.3,21.0),
    (966.7,19.2),(970,21.9),(973.3,30.8),(975,41.5),(976.7,38.8),(978.3,29.0),(980,20.1),(983.3,17.4),(986.7,14.8),(990,18.3),
    (993.3,19.2),(996.7,21.0),(1000,18.3),(1003.3,20.1),(1006.7,21.9),(1010,19.2),(1013.3,20.1),(1016.7,18.3),(1020,18.0)]
BR_TEAL = [(810,5.8),(813.3,3.2),(816,5.0),(818.3,0.5),(821.7,3.2),(825,3.2),(828.3,4.1),(831.7,3.2),(835,1.4),(838.3,1.0),
    (846.7,0.9),(860,0.9),(876.7,0.9),(893.3,0.9),(910,1.0),(926.7,1.4),(936.7,1.7),(940.7,2.3),(941.7,13.0),(943.3,21.9),
    (946.7,25.5),(950,23.7),(953.3,27.2),(956.7,29.0),(960,29.9),(963.3,29.0),(966.7,32.6),(970,33.5),(973.3,30.8),(975,41.5),
    (976.7,44.2),(980,42.4),(983.3,48.6),(986.7,44.2),(990,41.5),(993.3,37.9),(996.7,32.6),(1000,26.3),(1003.3,34.4),(1006.7,37.9),
    (1009.3,41.5),(1011.7,35.3),(1015,32.6),(1018.3,29.0),(1020,29.9)]

# ---------------- figure ----------------
fig = go.Figure()

PANELS = {
    "tl": dict(ax="", xpx=(0, 505), ypx=(0, 194), xr=[0, 505], yr=[-1.1, 108], t0=0, dt=7.5, zl=False),
    "tr": dict(ax="2", xpx=(509, 1024), ypx=(0, 194), xr=[509, 1024], yr=[-0.4, 102.3], t0=0, dt=10, zl=True),
    "bl": dict(ax="3", xpx=(0, 505), ypx=(197, 393), xr=[0, 505], yr=[0.85, 105.3], t0=90, dt=6.5, zl=False),
    "br": dict(ax="4", xpx=(509, 1024), ypx=(197, 393), xr=[509, 1024], yr=[-1.3, 103.5], t0=0, dt=10, zl=True),
}

def add(panel, xs, ys, color, width=1.4):
    a = PANELS[panel]["ax"]
    fig.add_trace(go.Scatter(x=xs, y=ys, mode="lines", line=dict(color=color, width=width),
                             xaxis="x" + a, yaxis="y" + a, showlegend=False, hoverinfo="skip"))

def add_pairs(panel, pairs, color, width=1.4):
    add(panel, [p[0] for p in pairs], [p[1] for p in pairs], color, width)

# top-left
add("tl", TL_STEP_T, TL_STEP, "#dc8f5c", 1.7)
add("tl", TL_T, TL_CPU, "#168ca6", 1.7)
# bottom-left
add("bl", BL_STEP_T, BL_STEP, "#dc8f5c", 1.7)
add_pairs("bl", BL_CPU, "#19a2c4", 1.7)
# top-right
add_pairs("tr", TR_PINK, "#e8787a")
add_pairs("tr", TR_GREY, "#c4c4c4")
add_pairs("tr", TR_PURPLE, "#a98ce0")
add_pairs("tr", TR_BROWN, "#b37f70")
add_pairs("tr", TR_YELLOW, "#e6c33c")
add_pairs("tr", TR_CYAN, "#1fb2da")
add_pairs("tr", TR_GREEN, "#74bb3e")
add_pairs("tr", TR_ORANGE, "#f0a06a")
# bottom-right
add_pairs("br", BR_TEAL, "#1597b2")
add_pairs("br", BR_GREY, "#bcbcbc")
add_pairs("br", BR_BROWN, "#b37f70")
add_pairs("br", BR_YELLOW, "#e6c33c")
add_pairs("br", BR_PURPLE, "#ad8fe4")
add_pairs("br", BR_PINK, "#e8787a")

layout = dict(width=W, height=H, margin=dict(l=0, r=0, t=0, b=0),
              paper_bgcolor="#ffffff", plot_bgcolor=BG, showlegend=False)
shapes, annotations = [], []
for key, p in PANELS.items():
    a = p["ax"]
    xd = [p["xpx"][0] / W, p["xpx"][1] / W]
    yd = [1 - p["ypx"][1] / H, 1 - p["ypx"][0] / H]
    layout["xaxis" + a] = dict(domain=xd, range=p["xr"], showgrid=False, zeroline=False,
                               showticklabels=False, ticks="", anchor="y" + a, fixedrange=True)
    layout["yaxis" + a] = dict(domain=yd, range=p["yr"], tick0=p["t0"], dtick=p["dt"],
                               showgrid=True, gridcolor=GRID, gridwidth=1,
                               zeroline=p["zl"], zerolinecolor="#9b9ea3", zerolinewidth=1,
                               showticklabels=False, ticks="", anchor="x" + a, fixedrange=True)
    shapes.append(dict(type="line", xref="x" + a + " domain", yref="y" + a,
                       x0=0, x1=1, y0=CRITICAL, y1=CRITICAL,
                       line=dict(color="rgba(200,120,120,0.75)", width=1, dash="dot")))
    annotations.append(dict(text=CRIT_LABEL, xref="x" + a + " domain", yref="y" + a,
                            x=0.004, y=CRITICAL, xanchor="left", yanchor="bottom", showarrow=False,
                            font=dict(family="Liberation Sans", size=4.5, color="#e8565f"),
                            bgcolor="#dcdcdc", bordercolor="#c8c8c8", borderwidth=0.5, borderpad=0.6))
layout["shapes"] = shapes
layout["annotations"] = annotations
fig.update_layout(**layout)

fig.write_html("out.html", config={"displayModeBar": False},
               post_script="document.body.style.margin='0';document.body.style.overflow='hidden';")
